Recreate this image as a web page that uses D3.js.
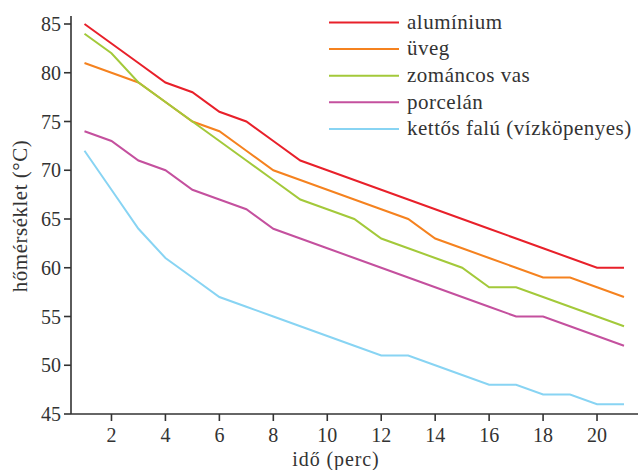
<!DOCTYPE html>
<html><head><meta charset="utf-8">
<script src="https://cdn.jsdelivr.net/npm/d3@7"></script>
<style>body{margin:0;background:#fff}svg{display:block}text{font-family:"Liberation Serif","DejaVu Serif",serif;fill:#333}</style>
</head><body>
<script>
const times = d3.range(1, 22);
const seriesNames = ["alumínium", "üveg", "zománcos vas", "porcelán", "kettős falú (vízköpenyes)"];
const colors = ["#e8202a", "#f5821f", "#a3c93a", "#c4509e", "#88d4f3"];
const aluminium = [85,83,81,79,78,76,75,73,71,70,69,68,67,66,65,64,63,62,61,60,60];
const uveg = [81,80,79,77,75,74,72,70,69,68,67,66,65,63,62,61,60,59,59,58,57];
const zomancos = [84,82,79,77,75,73,71,69,67,66,65,63,62,61,60,58,58,57,56,55,54];
const porcelan = [74,73,71,70,68,67,66,64,63,62,61,60,59,58,57,56,55,55,54,53,52];
const kettos = [72,68,64,61,59,57,56,55,54,53,52,51,51,50,49,48,48,47,47,46,46];
const xTicks = [2,4,6,8,10,12,14,16,18,20];
const yTicks = [45,50,55,60,65,70,75,80,85];
const allSeries = [aluminium, uveg, zomancos, porcelan, kettos];

const W = 638, H = 470;
const svg = d3.select("body").append("svg").attr("width", W).attr("height", H);
const x = d3.scaleLinear().domain([1, 21]).range([84.5, 624]);
const y = d3.scaleLinear().domain([45, 85]).range([414, 24]);
const axisX0 = 71, axisY0 = 414;

// lines
const line = d3.line().x((d, i) => x(times[i])).y(d => y(d));
allSeries.forEach((s, k) => {
  svg.append("path").datum(s).attr("d", line).attr("fill", "none")
    .attr("stroke", colors[k]).attr("stroke-width", 2).attr("stroke-linejoin", "miter");
});

// axes
const ax = svg.append("g").attr("stroke", "#333").attr("stroke-width", 1.6);
ax.append("line").attr("x1", axisX0).attr("x2", axisX0).attr("y1", 16).attr("y2", axisY0);
ax.append("line").attr("x1", axisX0).attr("x2", W).attr("y1", axisY0).attr("y2", axisY0);
yTicks.forEach(t => ax.append("line").attr("x1", axisX0 - 7).attr("x2", axisX0).attr("y1", y(t)).attr("y2", y(t)));
xTicks.forEach(t => ax.append("line").attr("x1", x(t)).attr("x2", x(t)).attr("y1", axisY0).attr("y2", axisY0 + 7));

svg.selectAll(".yl").data(yTicks).enter().append("text")
  .attr("x", 61).attr("y", d => y(d)).attr("dy", "0.35em").attr("text-anchor", "end")
  .attr("font-size", 20).text(d => d);
svg.selectAll(".xl").data(xTicks).enter().append("text")
  .attr("x", d => x(d)).attr("y", 442).attr("text-anchor", "middle")
  .attr("font-size", 20).text(d => d);

svg.append("text").attr("x", 336).attr("y", 465.5).attr("text-anchor", "middle")
  .attr("font-size", 20).attr("letter-spacing", "0.9px").text("idő (perc)");
svg.append("text").attr("transform", "translate(27,216) rotate(-90)").attr("text-anchor", "middle")
  .attr("font-size", 21).attr("letter-spacing", "0.5px").text("hőmérséklet (°C)");

// legend
seriesNames.forEach((n, i) => {
  const ly = 22.5 + i * 26.6;
  svg.append("line").attr("x1", 329).attr("x2", 399).attr("y1", ly).attr("y2", ly)
    .attr("stroke", colors[i]).attr("stroke-width", 2);
  svg.append("text").attr("x", 407).attr("y", ly).attr("dy", "0.3em").attr("font-size", 21)
    .attr("letter-spacing", "0.5px").text(n);
});
</script>
</body></html>
